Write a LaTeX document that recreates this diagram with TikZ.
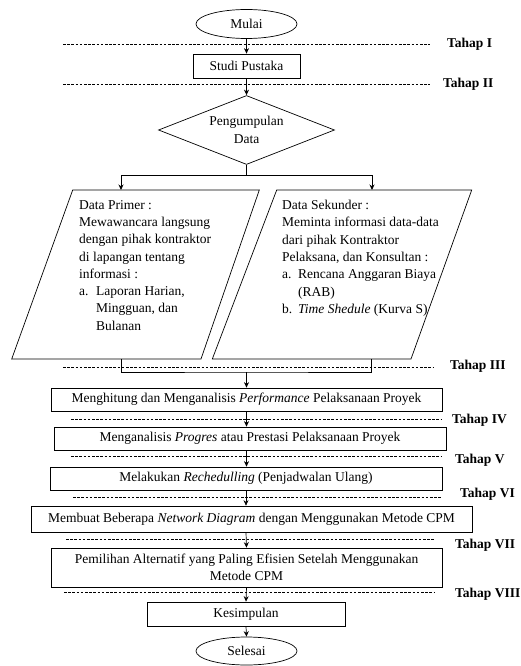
\documentclass[tikz,border=0pt]{standalone}
\usepackage{fontspec}
\setmainfont{Liberation Serif}
\usetikzlibrary{arrows.meta,shapes.geometric}
\begin{document}
\begin{tikzpicture}[x=1pt,y=-1pt,
  txt/.style={font=\fontsize{13.5}{17.3}\selectfont},
  lbl/.style={font=\fontsize{13.5}{16}\selectfont\bfseries,anchor=west,inner sep=0pt},
  box/.style={txt,draw,line width=0.7pt,rectangle,inner sep=0pt,align=center},
  oval/.style={txt,draw,line width=0.7pt,ellipse,inner sep=0pt,minimum width=101pt,minimum height=29pt},
  arr/.style={line width=0.7pt,-{Stealth[length=5.5pt,width=5pt]}},
  ln/.style={line width=0.7pt},
  dsh/.style={line width=0.6pt,dash pattern=on 2.6pt off 1.6pt},
  para/.style={draw,line width=0.7pt},
  ptxt/.style={txt,anchor=north west,inner sep=0pt,align=left}]
\useasboundingbox (0,0) rectangle (521,666);

% nodes
\node[oval] (mulai) at (246.5,24) {Mulai};
\node[box,minimum width=107pt,minimum height=24pt] (studi) at (246.5,66) {Studi Pustaka};
\node[txt,draw,line width=0.7pt,diamond,aspect=2.55,inner sep=0pt,minimum width=176pt,minimum height=69pt,align=center] (kumpul) at (246.5,130) {Pengumpulan\\Data};

% parallelograms
\draw[para] (72.7,190) -- (259.3,190) -- (201,359) -- (11.7,359) -- cycle;
\draw[para] (276.7,190) -- (471.7,190) -- (411,359) -- (212.3,359) -- cycle;
\coordinate (plin) at (121,190);
\coordinate (prin) at (372,190);
\coordinate (plout) at (121,359);
\coordinate (prout) at (371,359);

\node[ptxt] (primer) at (79,200) {Data Primer :\\
Mewawancara langsung\\
dengan pihak kontraktor\\
di lapangan tentang\\
informasi :\\
\makebox[17pt][l]{a.}Laporan Harian,\\
\hspace*{17pt}Mingguan, dan\\
\hspace*{17pt}Bulanan};

\node[ptxt] (sekunder) at (282,200) {Data Sekunder :\\
Meminta informasi data-data\\
dari pihak Kontraktor\\
Pelaksana, dan Konsultan :\\
\makebox[16pt][l]{a.}Rencana Anggaran Biaya\\
\hspace*{16pt}(RAB)\\
\makebox[16pt][l]{b.}\textit{Time Shedule} (Kurva S)};

\node[box,minimum width=391pt,minimum height=23pt] (b3) at (246.5,399.5) {Menghitung dan Menganalisis \textit{Performance} Pelaksanaan Proyek};
\node[box,minimum width=392pt,minimum height=23pt] (b4) at (250,438.5) {Menganalisis \textit{Progres} atau Prestasi Pelaksanaan Proyek};
\node[box,minimum width=392pt,minimum height=23pt] (b5) at (246,478.5) {Melakukan \textit{Rechedulling} (Penjadwalan Ulang)};
\node[box,minimum width=441pt,minimum height=26pt] (b6) at (251.5,519) {Membuat Beberapa \textit{Network Diagram} dengan Menggunakan Metode CPM};
\node[box,minimum width=391pt,minimum height=39pt,font=\fontsize{13.5}{16.5}\selectfont] (b7) at (246.5,567.5) {Pemilihan Alternatif yang Paling Efisien Setelah Menggunakan\\Metode CPM};
\node[box,minimum width=198pt,minimum height=24pt] (kes) at (246,614) {Kesimpulan};
\node[oval,minimum height=28pt] (selesai) at (246.5,651) {Selesai};

% dashed stage lines
\draw[dsh] (63,44) -- (430,44);
\draw[dsh] (63,84) -- (430,84);
\draw[dsh] (63,367) -- (433,367);
\draw[dsh] (71,419) -- (442,419);
\draw[dsh] (71,456) -- (442,456);
\draw[dsh] (73,497) -- (442,497);
\draw[dsh] (66,539) -- (435,539);
\draw[dsh] (64,592) -- (435,592);

% labels
\node[lbl] (t1) at (447,44) {Tahap I};
\node[lbl] (t2) at (443,84) {Tahap II};
\node[lbl] (t3) at (450,366) {Tahap III};
\node[lbl] (t4) at (452,420) {Tahap IV};
\node[lbl] (t5) at (455,460) {Tahap V};
\node[lbl] (t6) at (460,494) {Tahap VI};
\node[lbl] (t7) at (455,545) {Tahap VII};
\node[lbl] (t8) at (455,594) {Tahap VIII};

% connectors
\draw[arr] (mulai.south) -- (studi.north);
\draw[arr] (studi.south) -- (kumpul.north);
\draw[ln] (kumpul.south) -- ++(0,10) coordinate (split);
\draw[arr] (split) -| (plin);
\draw[arr] (split) -| (prin);
\coordinate (join) at (246.5,372);
\draw[ln] (plout) |- (join) -| (prout);
\draw[arr] (join) -- (b3.north);
\draw[arr] (b3.south) -- (b3.south |- b4.north);
\draw[arr] (b3.south |- b4.south) -- (b3.south |- b5.north);
\draw[arr] (b5.south) -- (b5.south |- b6.north);
\draw[arr] (b5.south |- b6.south) -- (b7.north);
\draw[arr] (b7.south) -- (kes.north);
\draw[arr] (kes.south) -- (selesai.north);
\end{tikzpicture}
\end{document}
